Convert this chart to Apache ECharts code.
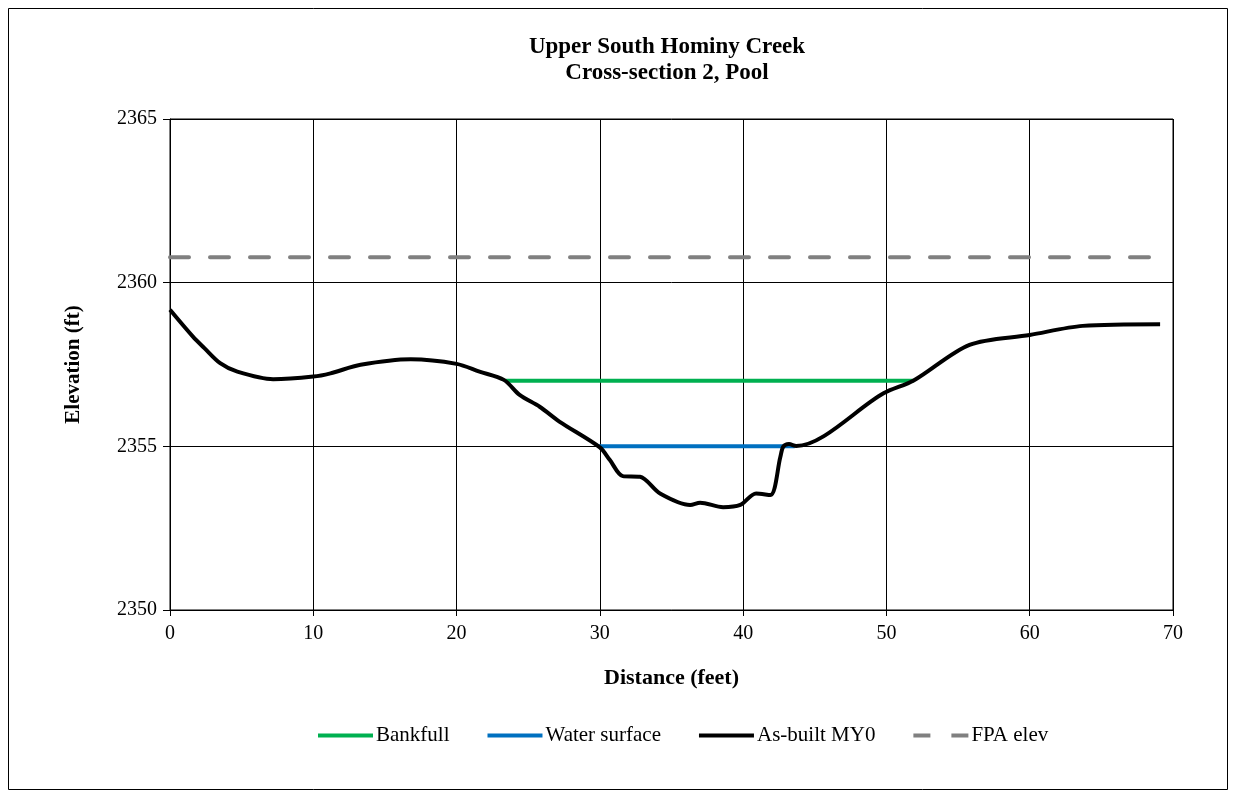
<!DOCTYPE html>
<html>
<head>
<meta charset="utf-8">
<script src="https://cdn.jsdelivr.net/npm/echarts@6/dist/echarts.min.js"></script>
<style>
html,body{margin:0;padding:0;background:#fff;}
#c{width:1235px;height:793px;}
</style>
</head>
<body>
<div id="c"></div>
<script>
// Data
var asBuiltX = [0, 1.6, 2.4, 3.5, 4.7, 7.2, 10, 11.2, 13.3, 16.8, 20, 21.6, 23.3, 24.4, 25.8, 27.2, 30.0, 30.7, 31.6, 32.8, 34.2, 36.3, 37.0, 38.6, 39.8, 40.9, 41.9, 42.6, 42.8, 43.2, 43.7, 49.8, 51.9, 55.8, 60.0, 63.7, 69.1];
var asBuiltY = [2359.17, 2358.35, 2358.0, 2357.54, 2357.28, 2357.05, 2357.13, 2357.23, 2357.49, 2357.66, 2357.52, 2357.28, 2357.03, 2356.57, 2356.21, 2355.75, 2354.97, 2354.58, 2354.09, 2354.07, 2353.56, 2353.21, 2353.28, 2353.14, 2353.21, 2353.56, 2353.51, 2354.68, 2354.99, 2355.07, 2355.01, 2356.62, 2357.01, 2358.10, 2358.40, 2358.68, 2358.73];
var bankfullX = [23.4, 51.9];
var bankfullY = [2357.0, 2357.0];
var waterX = [29.9, 43.6];
var waterY = [2355.0, 2355.0];
var fpaX = [0, 69.2];
var fpaY = [2360.78, 2360.78];

function pairs(xs, ys){ return xs.map(function(x,i){ return [x, ys[i]]; }); }

var font = '"Liberation Serif","Times New Roman",serif';
var chart = echarts.init(document.getElementById('c'));
chart.setOption({
  backgroundColor: '#fff',
  animation: false,
  title: {
    text: 'Upper South Hominy Creek\nCross-section 2, Pool',
    left: 662, textAlign: 'center', top: 29,
    textStyle: {fontFamily: font, fontWeight: 'bold', fontSize: 23, color: '#000', lineHeight: 26}
  },
  graphic: [{
    type: 'rect', shape: {x: 8.5, y: 8.5, width: 1219, height: 781},
    style: {fill: 'none', stroke: '#000', lineWidth: 1}, silent: true
  }],
  grid: {left: 170, right: 62, top: 119, bottom: 183, show: true, borderColor: '#000', borderWidth: 1},
  legend: {
    top: 720, left: 313, itemWidth: 55, itemHeight: 4, itemGap: 38,
    textStyle: {fontFamily: font, fontSize: 21, color: '#000', padding: [0, 0, 0, -2]},
    data: [
      {name: 'Bankfull', icon: 'rect'},
      {name: 'Water surface', icon: 'rect'},
      {name: 'As-built MY0', icon: 'rect'},
      {name: 'FPA elev', icon: 'path://M0,0h17v4h-17zM38,0h17v4h-17z'}
    ]
  },
  xAxis: {
    type: 'value', min: 0, max: 70, interval: 10,
    name: 'Distance (feet)', nameLocation: 'middle', nameGap: 57,
    nameTextStyle: {fontFamily: font, fontWeight: 'bold', fontSize: 22, color: '#000'},
    axisLine: {show: true, onZero: false, lineStyle: {color: '#000'}},
    axisTick: {show: true, length: 6, lineStyle: {color: '#000'}},
    axisLabel: {fontFamily: font, fontSize: 20, color: '#000', margin: 14},
    splitLine: {show: true, lineStyle: {color: '#000', width: 1}}
  },
  yAxis: {
    type: 'value', min: 2350, max: 2365, interval: 5,
    name: 'Elevation (ft)', nameLocation: 'middle', nameGap: 86, nameRotate: 90,
    nameTextStyle: {fontFamily: font, fontWeight: 'bold', fontSize: 21, color: '#000'},
    axisLine: {show: true, lineStyle: {color: '#000'}},
    axisTick: {show: true, length: 7, lineStyle: {color: '#000'}},
    axisLabel: {fontFamily: font, fontSize: 20, color: '#000', margin: 13, formatter: function(v){ return String(v); }},
    splitLine: {show: true, lineStyle: {color: '#000', width: 1}}
  },
  series: [
    {name: 'Bankfull', type: 'line', data: pairs(bankfullX, bankfullY), symbol: 'none',
     lineStyle: {color: '#00B050', width: 4}, itemStyle: {color: '#00B050'}},
    {name: 'Water surface', type: 'line', data: pairs(waterX, waterY), symbol: 'none',
     lineStyle: {color: '#0070C0', width: 4}, itemStyle: {color: '#0070C0'}},
    {name: 'As-built MY0', type: 'line', data: pairs(asBuiltX, asBuiltY), symbol: 'none', smooth: 0.3,
     lineStyle: {color: '#000', width: 4}, itemStyle: {color: '#000'}},
    {name: 'FPA elev', type: 'line', data: pairs(fpaX, fpaY), symbol: 'none',
     lineStyle: {color: '#808080', width: 4, type: [19, 21], cap: 'round'}, itemStyle: {color: '#808080'}}
  ]
});
</script>
</body>
</html>
